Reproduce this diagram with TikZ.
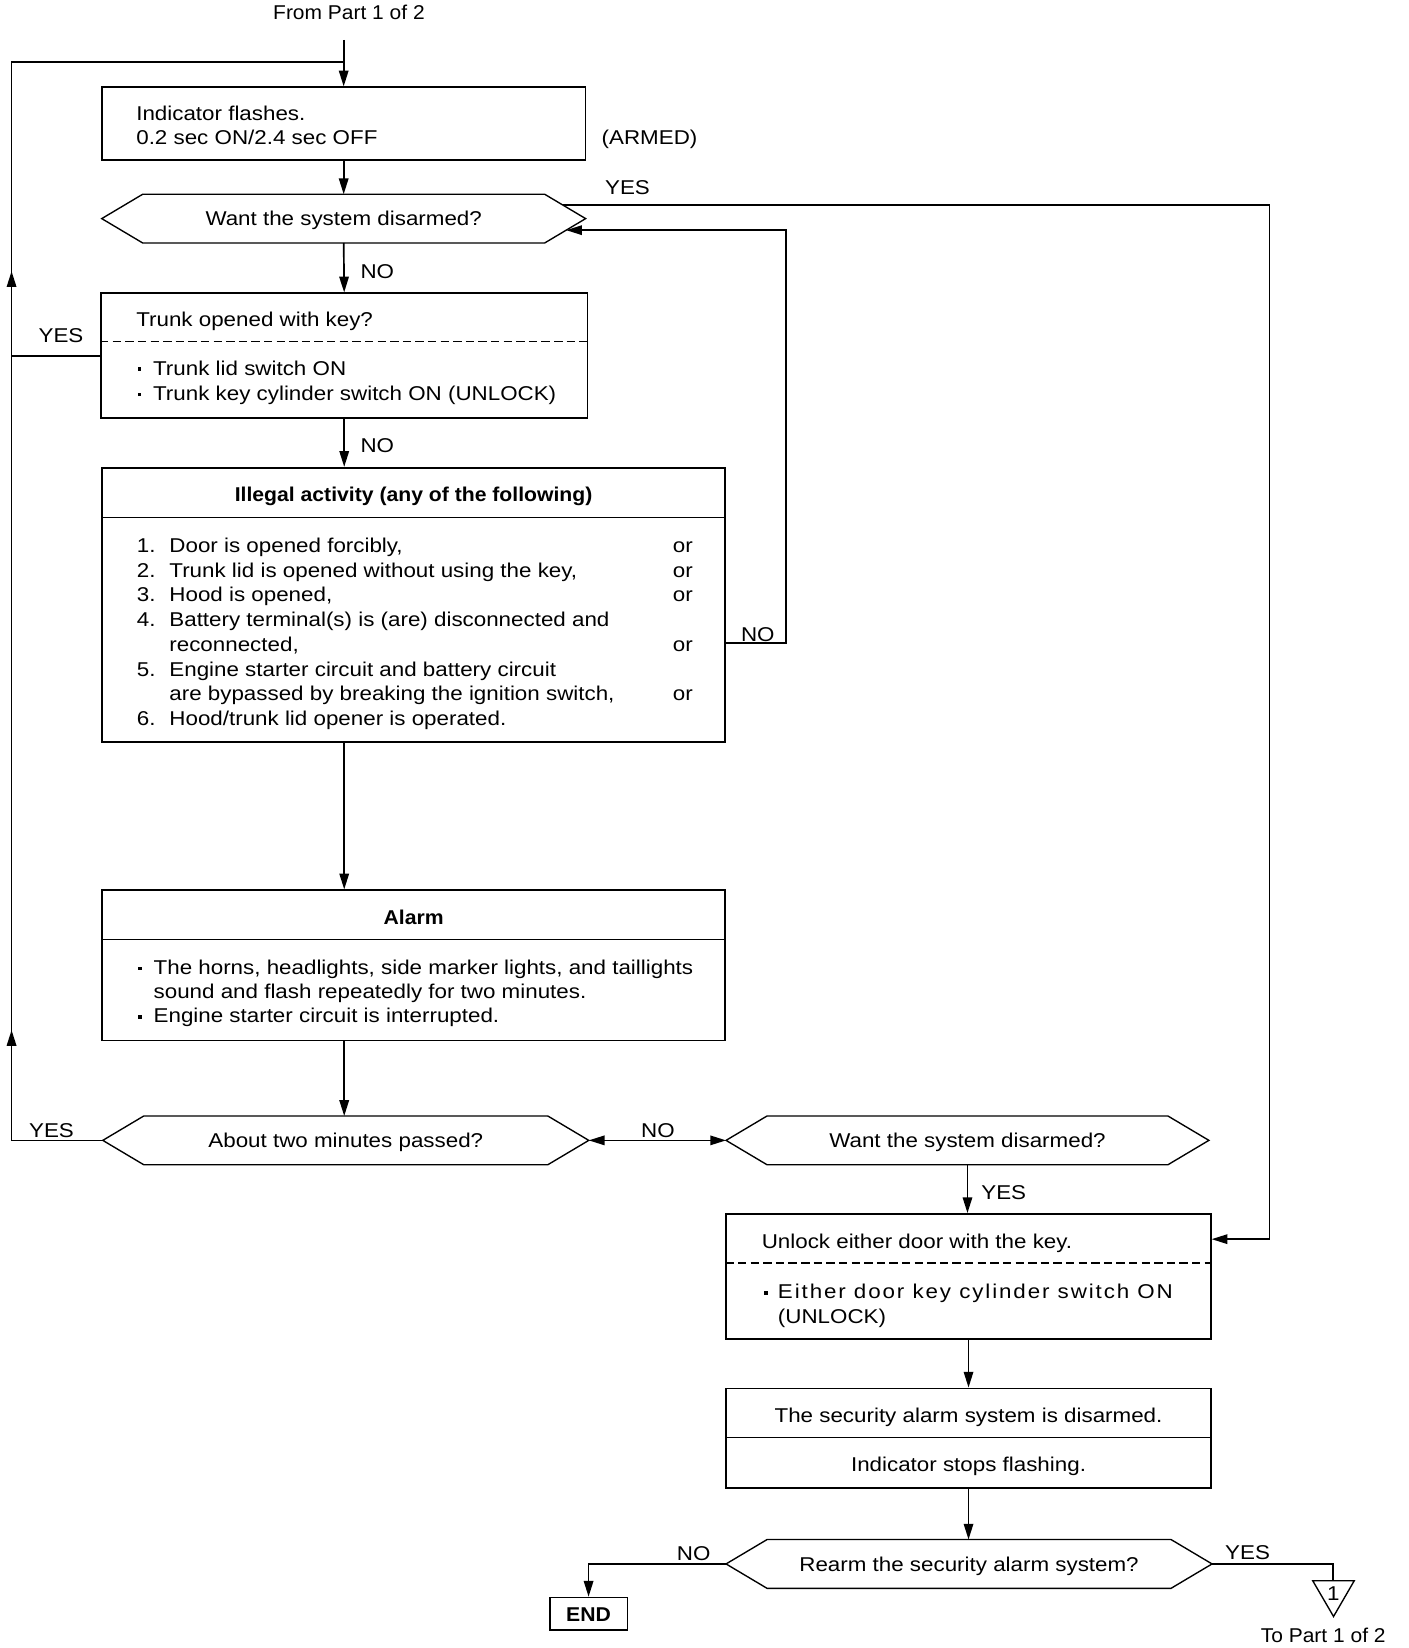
\documentclass[tikz,border=0pt]{standalone}
\usepackage{fontspec}
\setmainfont{Liberation Sans}[FakeStretch=1.12]
\newfontfamily\hdfont{Liberation Sans}[FakeStretch=1.06]
\newfontfamily\partfont{Liberation Sans}[FakeStretch=1.05]
\usetikzlibrary{arrows.meta,calc}
\newcommand\mydot{\raisebox{4pt}{\rule{3.2pt}{3.2pt}}}
\newcommand\mybul{\makebox[14.5pt][l]{\mydot}}
\begin{document}
\begin{tikzpicture}[x=1pt,y=-1pt,
  font=\fontsize{19}{23.6}\selectfont,
  boxs/.style={draw,line width=1.6pt,rectangle,inner sep=0pt},
  hexs/.style={inner sep=0pt,minimum height=46pt,text height=13.6pt,text depth=0pt},
  sepl/.style={line width=1.2pt},
  conn/.style={line width=1.6pt},
  arr/.style={conn,-{Triangle[length=15pt,width=9pt]}},
  t/.style={inner sep=0pt,text height=13.6pt,text depth=0pt},
  tl/.style={t,anchor=west},
  hexline/.style={line width=1.3pt,line join=miter}
]
\useasboundingbox (0,0) rectangle (1340,1568);

% ---------- boxes ----------
\node[boxs,minimum width=460pt,minimum height=69pt] (b1) at (327,117.5) {};
\node[hexs,minimum width=460pt] (h1) at (327,208) {Want the system disarmed?};
\node[boxs,minimum width=463pt,minimum height=119pt] (b2) at (327.5,338.5) {};
\node[boxs,minimum width=593pt,minimum height=261pt] (ill) at (393.5,575.5) {};
\node[boxs,minimum width=593pt,minimum height=143pt] (al) at (393.5,918.5) {};
\node[hexs,minimum width=462pt] (h2) at (329,1085) {About two minutes passed?};
\node[hexs,minimum width=459pt] (h3) at (920.5,1085) {Want the system disarmed?};
\node[boxs,minimum width=461pt,minimum height=119pt] (ub) at (921.5,1214.5) {};
\node[boxs,minimum width=461pt,minimum height=95pt] (db) at (921.5,1368.5) {};
\node[hexs,minimum width=462pt] (h4) at (922,1488) {Rearm the security alarm system?};
\node[boxs,minimum width=74pt,minimum height=31pt,text height=13.6pt,text depth=0pt,font=\fontsize{19}{23.6}\selectfont\hdfont\bfseries] (endb) at (560,1535.5) {END};

\foreach \n in {h1,h2,h3,h4}
  \draw[hexline] (\n.west) -- ([xshift=39pt]\n.north west) -- ([xshift=-39pt]\n.north east)
     -- (\n.east) -- ([xshift=-39pt]\n.south east) -- ([xshift=39pt]\n.south west) -- cycle;

% separators
\draw[sepl,dash pattern=on 8pt off 4pt] ([yshift=-47pt]b2.north west) -- ([yshift=-47pt]b2.north east);
\draw[sepl] ([yshift=-48pt]ill.north west) -- ([yshift=-48pt]ill.north east);
\draw[sepl] ([yshift=-48pt]al.north west) -- ([yshift=-48pt]al.north east);
\draw[sepl,dash pattern=on 8pt off 4pt] ([yshift=-47.5pt]ub.north west) -- ([yshift=-47.5pt]ub.north east);
\draw[sepl] ([yshift=-47.5pt]db.north west) -- ([yshift=-47.5pt]db.north east);

% triangle connector
\coordinate (tritop) at (1268.5,1504);
\draw[line width=1.3pt,line join=miter] (1249,1504) -- (1288.5,1504) -- (1268.8,1538) -- cycle;
\node[t] (tri1) at (1268.5,1516) {1};

% ---------- texts ----------
\node[t,font=\fontsize{19}{23.6}\selectfont\partfont] (fp) at (332,12) {From Part 1 of 2};
\node[tl] (b1a) at (129.5,108) {Indicator flashes.};
\node[tl] (b1b) at (129.5,131) {0.2 sec ON/2.4 sec OFF};
\node[t] (armed) at (618,131) {(ARMED)};
\node[t] (yes1) at (597,178) {YES};
\node[t] (no1) at (359,258) {NO};
\node[tl] (b2a) at (129.5,304) {Trunk opened with key?};
\node[tl] (b2b) at (131,350) {\mybul Trunk lid switch ON};
\node[tl] (b2c) at (131,374) {\mybul Trunk key cylinder switch ON (UNLOCK)};
\node[t] (yes2) at (58,319) {YES};
\node[t] (no2) at (359,424) {NO};

\node[t,font=\fontsize{19}{23.6}\selectfont\hdfont\bfseries] (illh) at (393.5,470) {Illegal activity (any of the following)};
\node[tl] (n1) at (130,518.8) {1.};
\node[tl] (i1) at (161,518.8) {Door is opened forcibly,};
\node[tl] (o1) at (640,518.8) {or};
\node[tl] (n2) at (130,542.5) {2.};
\node[tl] (i2) at (161,542.5) {Trunk lid is opened without using the key,};
\node[tl] (o2) at (640,542.5) {or};
\node[tl] (n3) at (130,565.5) {3.};
\node[tl] (i3) at (161,565.5) {Hood is opened,};
\node[tl] (o3) at (640,565.5) {or};
\node[tl] (n4) at (130,589.1) {4.};
\node[tl] (i4) at (161,589.1) {Battery terminal(s) is (are) disconnected and};
\node[tl] (i4b) at (161,612.8) {reconnected,};
\node[tl] (o4) at (640,612.8) {or};
\node[tl] (n5) at (130,636.4) {5.};
\node[tl] (i5) at (161,636.4) {Engine starter circuit and battery circuit};
\node[tl] (i5b) at (161,660) {are bypassed by breaking the ignition switch,};
\node[tl] (o5) at (640,660) {or};
\node[tl] (n6) at (130,683.8) {6.};
\node[tl] (i6) at (161,683.8) {Hood/trunk lid opener is operated.};
\node[t] (no3) at (721,603.7) {NO};

\node[t,font=\fontsize{19}{23.6}\selectfont\hdfont\bfseries] (alh) at (393.5,873) {Alarm};
\node[tl] (a1) at (131.5,920) {\mybul The horns, headlights, side marker lights, and taillights};
\node[tl] (a2) at (146,943.6) {sound and flash repeatedly for two minutes.};
\node[tl] (a3) at (131.5,966.5) {\mybul Engine starter circuit is interrupted.};

\node[t] (yes3) at (49,1075) {YES};
\node[t] (no4) at (626,1075) {NO};
\node[t] (yes4) at (955,1134) {YES};
\node[tl] (u1) at (724.6,1181) {Unlock either door with the key.};
\node[tl] (u2) at (727,1229) {\makebox[13pt][l]{\mydot}{\addfontfeature{LetterSpace=9.5}Either door key cylinder switch ON}};
\node[tl] (u3) at (740,1252) {(UNLOCK)};
\node[t] (d1) at (921.5,1347) {The security alarm system is disarmed.};
\node[t] (d2) at (921.5,1393) {Indicator stops flashing.};
\node[t] (no5) at (660,1478) {NO};
\node[t] (yes5) at (1187,1477) {YES};
\node[t,font=\fontsize{19}{23.6}\selectfont\partfont] (tp) at (1259,1556) {To Part 1 of 2};

% ---------- connectors ----------
\coordinate (T0) at (327,38);
\coordinate (T1) at (327,59);
\coordinate (L1) at (11,59);
\coordinate (L2) at (11,338.5);
\coordinate (L3) at (11,1085);
\coordinate (A1) at (11,258);
\coordinate (A2) at (11,980);
\coordinate (R1) at (1208,195);
\coordinate (R2) at (1208,1179);
\coordinate (N1) at (748,612);
\coordinate (N2) at (748,219);

\draw[arr] (T0) -- (b1.north);
\draw[conn] (h2.west) -- (L3) -- (L1) -- (T1);
\draw[conn] (b2.west) -- (L2);
\draw[arr] (L2) -- (A1);
\draw[arr] (L3) -- (A2);

\draw[arr] (b1.south) -- (h1.north);
\draw[arr] (h1.south) -- (b2.north);
\draw[arr] (b2.south) -- (b2.south |- ill.north);
\draw[arr] (b2.south |- ill.south) -- (b2.south |- al.north);
\draw[arr] (b2.south |- al.south) -- (b2.south |- h2.north);

\draw[arr] ($(h1.east)+(-22,-13)$) -- (R1) -- (R2) -- (R2 -| ub.east);
\draw[arr] (N1 -| ill.east) -- (N1) -- (N2) -- ($(h1.east)+(-18.5,11)$);

\draw[conn,{Triangle[length=15pt,width=9pt]}-{Triangle[length=15pt,width=9pt]}] (h2.east) -- (h3.west);
\draw[arr] (h3.south) -- (h3.south |- ub.north);
\draw[arr] (ub.south) -- (db.north);
\draw[arr] (db.south) -- (db.south |- h4.north);
\draw[arr] (h4.west) -- (h4.west -| endb.north) -- (endb.north);
\draw[conn] (h4.east) -- (h4.east -| tritop) -- (tritop);
\end{tikzpicture}
\end{document}
